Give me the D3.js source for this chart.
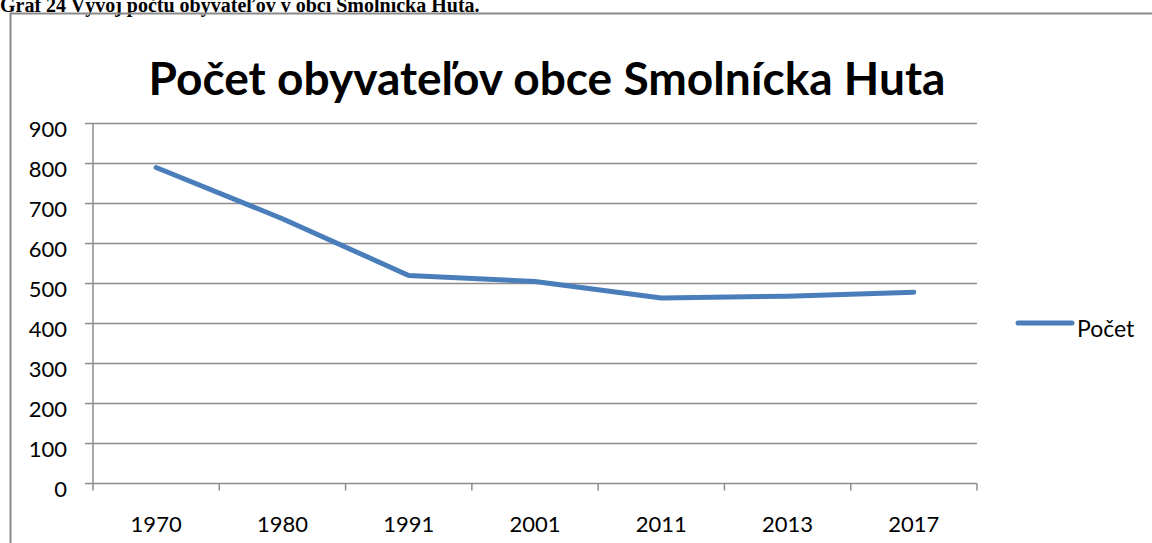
<!DOCTYPE html>
<html>
<head>
<meta charset="utf-8">
<script src="https://cdn.jsdelivr.net/npm/d3@7"></script>
<style>
  body { margin: 0; background: #fff; }
  svg { display: block; }
</style>
</head>
<body>
<div id="chart"></div>
<script>
// Chart data
const years = ["1970", "1980", "1991", "2001", "2011", "2013", "2017"];
const population = [790, 662, 520, 505, 464, 468, 478];
const yTicks = [0, 100, 200, 300, 400, 500, 600, 700, 800, 900];
const seriesName = "Počet";
const chartTitle = "Počet obyvateľov obce Smolnícka Huta";
const caption = "Graf 24 Vývoj počtu obyvateľov v obci  Smolnícka Huta.";

const width = 1152, height = 543;
const margin = {left: 93, right: 175, top: 123.5, bottom: 59.5};

const svg = d3.select("#chart").append("svg")
    .attr("width", width)
    .attr("height", height);

const gray = "#8c8c8c";
const sans = "Lato, 'Open Sans', sans-serif";

// Caption above the chart frame (partly cut by the page edge, as in the source)
svg.append("text")
    .attr("x", 0)
    .attr("y", 12)
    .attr("font-family", "'Liberation Serif', 'Times New Roman', serif")
    .attr("font-weight", "bold")
    .attr("font-size", 20)
    .text(caption);

// Chart frame
svg.append("rect")
    .attr("x", 10.5)
    .attr("y", 13.5)
    .attr("width", 1160)
    .attr("height", 560)
    .attr("fill", "none")
    .attr("stroke", "#8a8a8a")
    .attr("stroke-width", 2);

// Scales
const x = d3.scaleBand()
    .domain(years)
    .range([margin.left, width - margin.right]);

const y = d3.scaleLinear()
    .domain([0, 900])
    .range([height - margin.bottom, margin.top]);

// Gridlines
svg.append("g")
    .selectAll("line")
    .data(yTicks)
    .enter()
    .append("line")
    .attr("x1", margin.left - 8)
    .attr("x2", width - margin.right)
    .attr("y1", d => y(d))
    .attr("y2", d => y(d))
    .attr("stroke", gray)
    .attr("stroke-width", 1.5);

// Y axis line
svg.append("line")
    .attr("x1", margin.left)
    .attr("x2", margin.left)
    .attr("y1", y(0))
    .attr("y2", y(900))
    .attr("stroke", gray)
    .attr("stroke-width", 1.5);

// Y tick labels (sit a little below their gridline, like the source)
svg.append("g")
    .selectAll("text")
    .data(yTicks)
    .enter()
    .append("text")
    .attr("x", 67)
    .attr("y", d => y(d) + 6)
    .attr("dy", "0.35em")
    .attr("text-anchor", "end")
    .attr("font-family", sans)
    .attr("font-size", 22)
    .text(d => d);

// X tick marks at band boundaries
const boundaries = years.map(d => x(d)).concat([x(years[years.length - 1]) + x.bandwidth()]);
svg.append("g")
    .selectAll("line")
    .data(boundaries)
    .enter()
    .append("line")
    .attr("x1", d => d)
    .attr("x2", d => d)
    .attr("y1", y(0))
    .attr("y2", y(0) + 7)
    .attr("stroke", gray)
    .attr("stroke-width", 1.5);

// X labels
svg.append("g")
    .selectAll("text")
    .data(years)
    .enter()
    .append("text")
    .attr("x", d => x(d) + x.bandwidth() / 2)
    .attr("y", 524)
    .attr("dy", "0.35em")
    .attr("text-anchor", "middle")
    .attr("font-family", sans)
    .attr("font-size", 22)
    .text(d => d);

// Series line
const line = d3.line()
    .x((d, i) => x(years[i]) + x.bandwidth() / 2)
    .y(d => y(d));

svg.append("path")
    .datum(population)
    .attr("d", line)
    .attr("fill", "none")
    .attr("stroke", "#4a7ebb")
    .attr("stroke-width", 5)
    .attr("stroke-linecap", "round")
    .attr("stroke-linejoin", "round");

// Legend
svg.append("line")
    .attr("x1", 1018)
    .attr("x2", 1072)
    .attr("y1", 323)
    .attr("y2", 323)
    .attr("stroke", "#4a7ebb")
    .attr("stroke-width", 5)
    .attr("stroke-linecap", "round");

svg.append("text")
    .attr("x", 1077)
    .attr("y", 337)
    .attr("font-family", sans)
    .attr("font-size", 23)
    .text(seriesName);

// Title, sized to span the same width as the reference
const title = svg.append("text")
    .attr("x", 547)
    .attr("y", 95)
    .attr("text-anchor", "middle")
    .attr("font-family", sans)
    .attr("font-weight", "bold")
    .attr("font-size", 36)
    .text(chartTitle);
const tw = title.node().getComputedTextLength();
title.attr("font-size", 36 * 797 / tw);
</script>
</body>
</html>
